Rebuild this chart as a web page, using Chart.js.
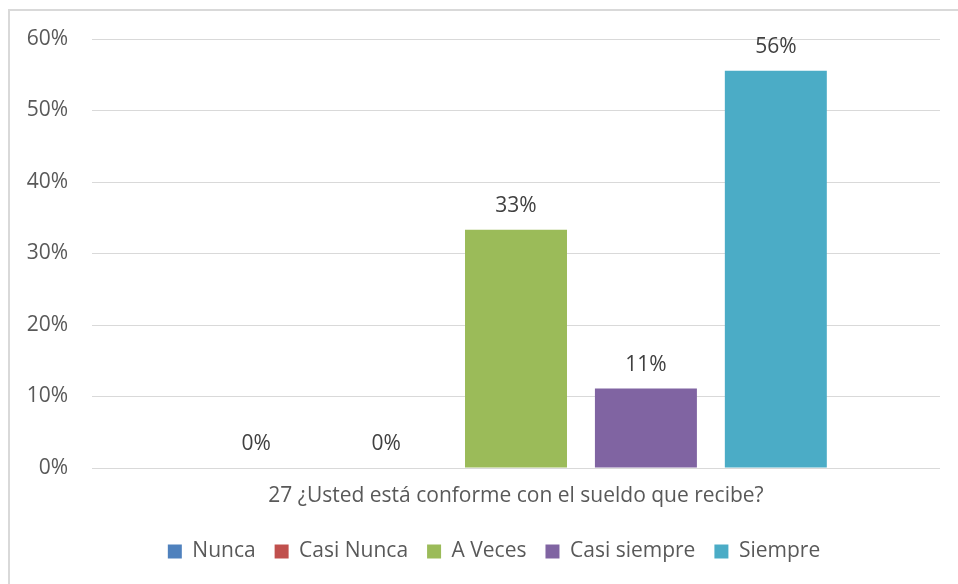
<!DOCTYPE html>
<html>
<head>
<meta charset="utf-8">
<script src="https://cdn.jsdelivr.net/npm/chart.js@4/dist/chart.umd.min.js"></script>
<style>
  html, body { margin: 0; padding: 0; background: #fff; }
  #wrap { position: relative; width: 958px; height: 584px; }
</style>
</head>
<body>
<div id="wrap"><canvas id="c" width="958" height="584"></canvas></div>
<script>
const categories = ["27 ¿Usted está conforme con el sueldo que recibe?"];
const seriesNames = ["Nunca", "Casi Nunca", "A Veces", "Casi siempre", "Siempre"];
const seriesValues = [[0], [0], [33.33], [11.11], [55.56]];
const seriesColors = ["#4F81BD", "#C0504D", "#9BBB59", "#8064A2", "#4BACC6"];
const yTicks = [0, 10, 20, 30, 40, 50, 60];

const FONT = "'Open Sans', 'Noto Sans', sans-serif";
const FS = 21;

const frame = {
  id: 'frame',
  beforeDraw(chart) {
    const ctx = chart.ctx;
    ctx.save();
    ctx.fillStyle = '#fff';
    ctx.fillRect(0, 0, chart.width, chart.height);
    ctx.strokeStyle = '#D9D9D9';
    ctx.lineWidth = 2;
    ctx.beginPath();
    ctx.moveTo(9, chart.height);
    ctx.lineTo(9, 10);
    ctx.lineTo(chart.width, 10);
    ctx.stroke();
    ctx.restore();
  }
};

const legendShift = {
  id: 'legendShift',
  afterLayout(chart) {
    if (chart.legend) { chart.legend.left += 48; }
  }
};

const dataLabels = {
  id: 'dataLabels',
  afterDatasetsDraw(chart) {
    const ctx = chart.ctx;
    ctx.save();
    ctx.font = FS + 'px ' + FONT;
    ctx.fillStyle = '#404040';
    ctx.textAlign = 'center';
    ctx.textBaseline = 'middle';
    chart.data.datasets.forEach((ds, i) => {
      const meta = chart.getDatasetMeta(i);
      meta.data.forEach((bar, j) => {
        const v = ds.data[j];
        ctx.fillText(Math.round(v) + '%', bar.x, bar.y - 24);
      });
    });
    ctx.restore();
  }
};

new Chart(document.getElementById('c'), {
  type: 'bar',
  data: {
    labels: categories,
    datasets: seriesNames.map((n, i) => ({
      label: n,
      data: seriesValues[i],
      backgroundColor: seriesColors[i],
      borderWidth: 0,
      categoryPercentage: 0.766,
      barPercentage: 0.785
    }))
  },
  options: {
    responsive: false,
    animation: false,
    devicePixelRatio: 1,
    layout: { padding: { left: 0, right: 18, top: 39, bottom: 12 } },
    plugins: {
      legend: {
        position: 'bottom',
        labels: {
          font: { family: FONT, size: FS },
          color: '#595959',
          boxWidth: 14,
          boxHeight: 14,
          padding: 19
        }
      },
      tooltip: { enabled: false }
    },
    scales: {
      x: {
        grid: { display: false, drawTicks: false },
        border: { display: false },
        afterFit(scale) { scale.height = 54; },
        ticks: { font: { family: FONT, size: FS }, color: '#595959', padding: 15 }
      },
      y: {
        min: 0, max: 60,
        afterBuildTicks(scale) { scale.ticks = yTicks.map(v => ({ value: v })); },
        afterFit(scale) { scale.width = 92; },
        grid: { color: '#D9D9D9', lineWidth: 1, drawTicks: false },
        border: { display: false },
        ticks: {
          font: { family: FONT, size: FS },
          color: '#595959',
          padding: 24,
          callback: v => v + '%'
        }
      }
    }
  },
  plugins: [frame, legendShift, dataLabels]
});
</script>
</body>
</html>
